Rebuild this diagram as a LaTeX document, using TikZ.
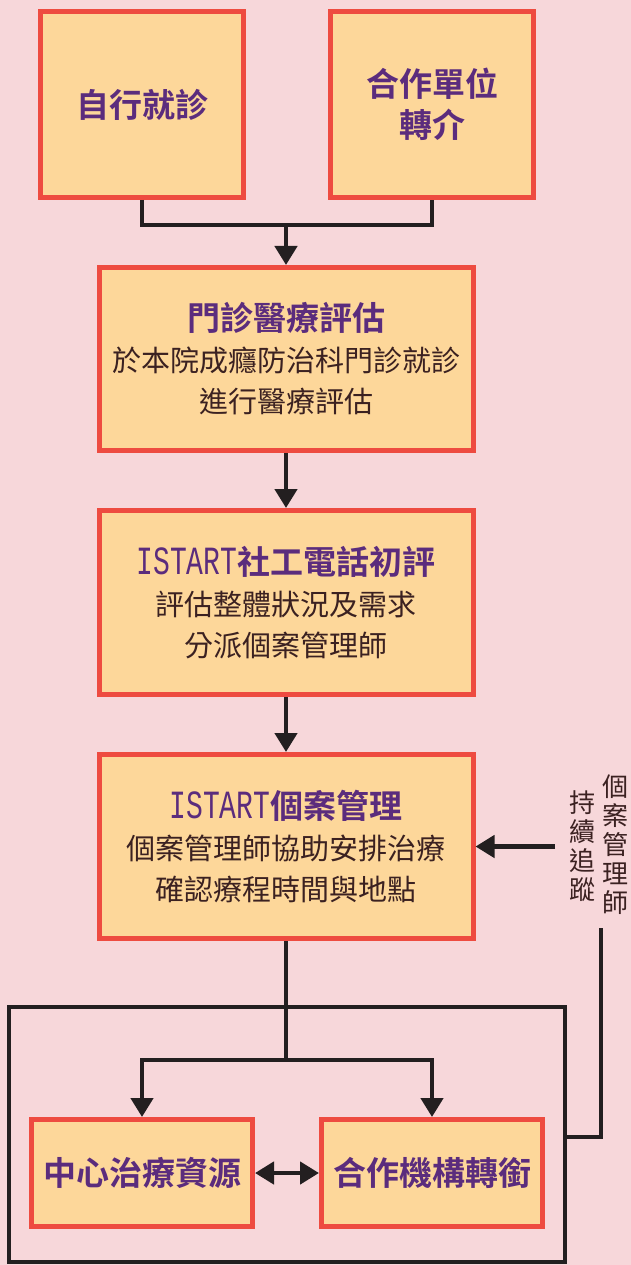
\documentclass[tikz,border=0pt]{standalone}
\usepackage{fontspec}
\setmainfont{Noto Sans CJK TC}[BoldFont={Noto Sans CJK TC Bold}]
\newfontfamily\istartfont{Liberation Mono}[FakeStretch=0.7]
\usetikzlibrary{arrows.meta}
\definecolor{bgpink}{HTML}{F7D7DA}
\definecolor{boxfill}{HTML}{FDD79A}
\definecolor{boxred}{HTML}{EE4B40}
\definecolor{ink}{HTML}{231F20}
\definecolor{hdpurple}{HTML}{5B2C7D}
\definecolor{bodybrown}{HTML}{3B2121}
\newcommand{\hd}{\color{hdpurple}\fontsize{33}{41}\selectfont\bfseries}
\newcommand{\istart}{{\istartfont\mdseries\fontsize{40}{41}\selectfont ISTART}}

\begin{document}
\begin{tikzpicture}[
    x=1pt,y=-1pt,
    box/.style={draw=boxred,fill=boxfill,line width=5pt,align=center,inner sep=0pt,
        text=bodybrown,font=\fontsize{29}{41}\selectfont},
    link/.style={draw=ink,line width=4.5pt,-{Triangle[width=22pt,length=19pt]}},
    side/.style={align=center,text=bodybrown,inner sep=0pt,font=\fontsize{26}{29}\selectfont},
]
    \fill[bgpink] (0,0) rectangle (631,1265);
    \useasboundingbox (0,0) rectangle (631,1265);
    \node[box,minimum width=203,minimum height=186] (self) at (142,104.5) {{\hd 自行就診}};
    \node[box,minimum width=203,minimum height=186] (referral) at (432,104.5) {{\hd 合作單位}\\{\hd 轉介}};
    \node[box,minimum width=374,minimum height=183] (opd) at (286,359)
        {{\hd 門診醫療評估}\\於本院成癮防治科門診就診\\進行醫療評估};
    \node[box,minimum width=374,minimum height=184] (call) at (286,602.5)
        {{\hd \istart 社工電話初評}\\評估整體狀況及需求\\分派個案管理師};
    \node[box,minimum width=374,minimum height=184] (case) at (286,846.5)
        {{\hd \istart 個案管理}\\個案管理師協助安排治療\\確認療程時間與地點};
    \node[box,minimum width=221,minimum height=107] (centre) at (142,1173) {{\hd 中心治療資源}};
    \node[box,minimum width=221,minimum height=107] (partner) at (432,1173) {{\hd 合作機構轉銜}};
    \node[side] (manager) at (615,845) {個\\案\\管\\理\\師};
    \node[side] (track) at (582,846) {持\\續\\追\\蹤};

    \coordinate (join) at ([yshift=40pt]opd.north);
    \draw[link,-] (self.south) |- (join) -| (referral.south);
    \draw[link] (join) -- (opd.north);
    \draw[link] (opd) -- (call);
    \draw[link] (call) -- (case);
    \coordinate (split) at (286,1060);
    \draw[link,-] (case.south) -- (split);
    \draw[link] (split) -| (centre.north);
    \draw[link] (split) -| (partner.north);
    \draw[link,{Triangle[width=22pt,length=19pt]}-{Triangle[width=22pt,length=19pt]}] (centre) -- (partner);
    \draw[draw=ink,line width=4.5pt] (9,1007) rectangle (565,1262);
    \coordinate (hook) at (565,1137);
    \coordinate (rise) at (601,928);
    \draw[link,-] (hook) -| (rise);
    \coordinate (tail) at (555,846.5);
    \draw[link] (tail) -- (case.east);
\end{tikzpicture}
\end{document}
